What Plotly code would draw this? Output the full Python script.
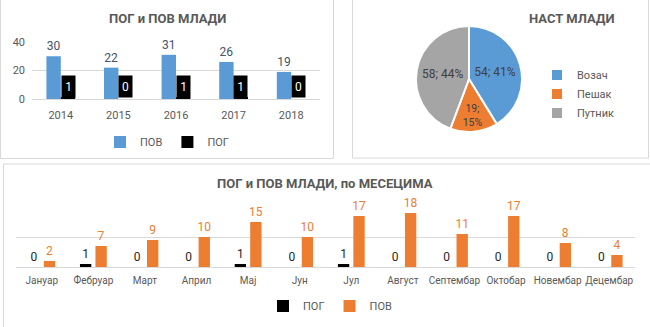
import plotly.graph_objects as go

# ---- data ----
years = ["2014", "2015", "2016", "2017", "2018"]
pov_years = [30, 22, 31, 26, 19]
pog_years = [1, 0, 1, 1, 0]

pie_labels = ["Возач", "Пешак", "Путник"]
pie_values = [54, 19, 58]

months = ["Јануар", "Фебруар", "Март", "Април", "Мај", "Јун", "Јул",
          "Август", "Септембар", "Октобар", "Новембар", "Децембар"]
pog_months = [0, 1, 0, 0, 1, 0, 1, 0, 0, 0, 0, 0]
pov_months = [2, 7, 9, 10, 15, 10, 17, 18, 11, 17, 8, 4]

W, H = 650, 327
BLUE = "#5B9BD5"
ORANGE = "#ED7D31"
GRAY = "#A5A5A5"
TXT = "#595959"
GRID = "#D9D9D9"
FONT = "Roboto"

def px(x):
    return x / W

def py(y):
    return 1 - y / H

fig = go.Figure()

# ---- top-left chart ----
fig.add_trace(go.Bar(
    x=years, y=pov_years, name="ПОВ", marker_color=BLUE,
    text=pov_years, textposition="outside", cliponaxis=False, constraintext="none",
    textfont=dict(color="#44546A", size=12, family=FONT),
    xaxis="x", yaxis="y", legend="legend",
))
fig.add_trace(go.Bar(
    x=years, y=pog_years, name="ПОГ", marker_color="#000000",
    xaxis="x", yaxis="y", legend="legend",
))

annotations = []
for i, v in enumerate(pog_years):
    annotations.append(dict(
        x=i, y=9, xref="x", yref="y", xshift=7.2,
        text=str(v), showarrow=False, bgcolor="#000000",
        font=dict(color="#FFFFFF", size=12, family=FONT),
        width=13, height=21, borderpad=0,
    ))

# ---- pie ----
pie_text = ["%{value}; %{percent:.0%}", "%{value};<br>%{percent:.0%}", "%{value}; %{percent:.0%}"]
fig.add_trace(go.Pie(
    labels=pie_labels, values=pie_values, sort=False, direction="clockwise",
    rotation=0, marker=dict(colors=[BLUE, ORANGE, GRAY], line=dict(color="#FFFFFF", width=2)),
    texttemplate=pie_text, textposition="inside", insidetextorientation="horizontal",
    textfont=dict(color="#404040", size=12, family=FONT),
    domain=dict(x=[px(416), px(522)], y=[py(132), py(26)]),
    legend="legend2", hoverinfo="label+value+percent",
))

# ---- bottom chart ----
fig.add_trace(go.Bar(
    x=months, y=pog_months, name="ПОГ", marker_color="#000000",
    width=0.22, offset=-0.26,
    text=pog_months, textposition="outside", cliponaxis=False, constraintext="none",
    textfont=dict(color="#262626", size=12, family=FONT),
    xaxis="x2", yaxis="y2", legend="legend3",
))
fig.add_trace(go.Bar(
    x=months, y=pov_months, name="ПОВ", marker_color=ORANGE,
    width=0.22, offset=0.04,
    text=pov_months, textposition="outside", cliponaxis=False, constraintext="none",
    textfont=dict(color=ORANGE, size=12, family=FONT),
    xaxis="x2", yaxis="y2", legend="legend3",
))

# titles
for t, x, y in [("ПОГ и ПОВ МЛАДИ", 167, 18), ("НАСТ МЛАДИ", 572, 18),
                ("ПОГ и ПОВ МЛАДИ, по МЕСЕЦИМА", 325, 183)]:
    annotations.append(dict(
        x=px(x), y=py(y), xref="paper", yref="paper", text="<b>%s</b>" % t,
        showarrow=False, xanchor="center", yanchor="middle",
        font=dict(color=TXT, size=13, family=FONT),
    ))

shapes = [
    dict(type="rect", xref="paper", yref="paper", x0=px(0.5), x1=px(333.5), y0=py(158.5), y1=py(-2),
         line=dict(color=GRID, width=1)),
    dict(type="rect", xref="paper", yref="paper", x0=px(352.5), x1=px(648.5), y0=py(158), y1=py(-2),
         line=dict(color=GRID, width=1)),
    dict(type="rect", xref="paper", yref="paper", x0=px(3.5), x1=px(660), y0=py(330), y1=py(164),
         line=dict(color=GRID, width=1)),
]

fig.update_layout(
    template="none",
    width=W, height=H, margin=dict(l=0, r=0, t=0, b=0, autoexpand=False),
    paper_bgcolor="#FFFFFF", plot_bgcolor="#FFFFFF",
    font=dict(family=FONT, color=TXT, size=11),
    barmode="group",
    bargap=0.5, bargroupgap=0.0,
    annotations=annotations, shapes=shapes,
    xaxis=dict(domain=[px(32), px(320)], anchor="y", type="category", range=[-0.5, 4.5],
               showgrid=False, showline=False, zeroline=False, ticks="", automargin=False,
               ticklabelstandoff=8, tickfont=dict(size=11, color=TXT)),
    yaxis=dict(domain=[py(99), py(42)], anchor="x", range=[0, 40], dtick=20,
               gridcolor=GRID, gridwidth=1, zeroline=True, zerolinecolor=GRID, zerolinewidth=1,
               showline=False, ticks="", automargin=False, ticklabelstandoff=6,
               tickfont=dict(size=11, color=TXT)),
    xaxis2=dict(domain=[px(16), px(635)], anchor="y2", type="category", range=[-0.5, 11.5],
                showgrid=False, showline=False, zeroline=False, ticks="", tickangle=0,
                automargin=False, ticklabelstandoff=6, tickfont=dict(size=10, color=TXT)),
    yaxis2=dict(domain=[py(267), py(207)], anchor="x2", range=[0, 20], dtick=10,
                gridcolor=GRID, gridwidth=1, zeroline=True, zerolinecolor=GRID, zerolinewidth=1,
                showticklabels=False, ticks="", automargin=False),
    legend=dict(orientation="h", x=px(167), xanchor="center", y=py(142), yanchor="middle",
                font=dict(size=11, color=TXT), bgcolor="rgba(0,0,0,0)"),
    legend2=dict(orientation="v", x=px(537), xanchor="left", y=py(94), yanchor="middle",
                 font=dict(size=11, color=TXT), bgcolor="rgba(0,0,0,0)"),
    legend3=dict(orientation="h", x=px(330), xanchor="center", y=py(306), yanchor="middle",
                 font=dict(size=11, color=TXT), bgcolor="rgba(0,0,0,0)"),
    showlegend=True,
)

fig.write_html("out.html")
